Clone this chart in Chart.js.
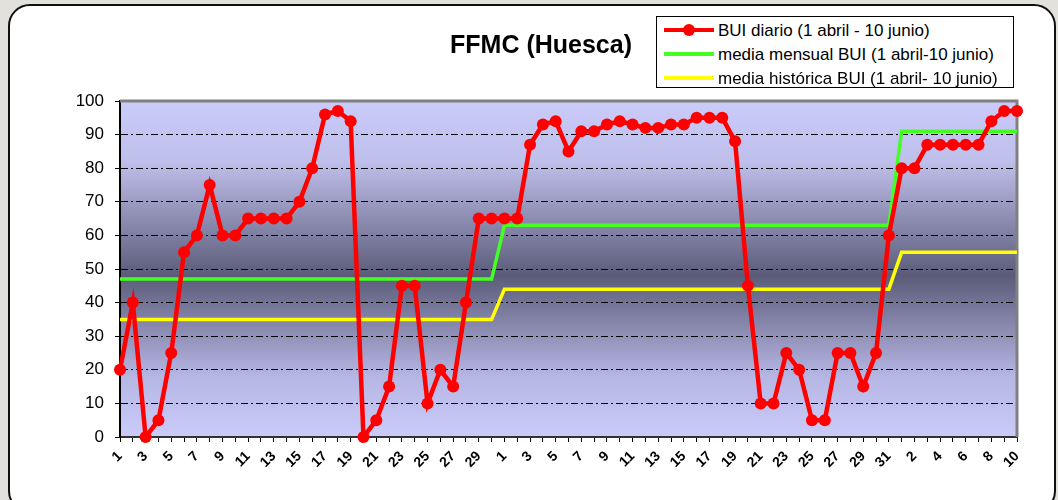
<!DOCTYPE html>
<html>
<head>
<meta charset="utf-8">
<script src="https://cdn.jsdelivr.net/npm/chart.js@4"></script>
<style>
  html, body { margin: 0; padding: 0; }
  body { width: 1058px; height: 500px; overflow: hidden; position: relative; background: #e2e1dc; font-family: "Liberation Sans", Arial, sans-serif; }
  #frame { position: absolute; left: 8px; top: 4px; width: 1044px; height: 505px; background: #fff; border: 2px solid #111; border-radius: 22px; }
  #chartBox { position: absolute; left: 0; top: 0; width: 1058px; height: 500px; }
  #title { position: absolute; left: 341px; top: 30px; width: 400px; text-align: center; font-weight: bold; font-size: 25px; color: #000; }
  #legend { position: absolute; left: 656px; top: 16px; width: 356px; height: 70px; border: 1px solid #000; background: #fff; }
  .row { position: absolute; left: 0; height: 22px; width: 356px; }
  .swatch { position: absolute; left: 7px; top: 10px; width: 50px; height: 4px; }
  .dot { position: absolute; left: 19px; top: -4px; width: 12px; height: 12px; border-radius: 50%; background: #ff0000; }
  .txt { position: absolute; left: 61px; top: 3px; font-size: 17px; line-height: 20px; color: #000; white-space: nowrap; }
</style>
</head>
<body>
<div id="frame"></div>
<div id="chartBox"><canvas id="ffmcChart" width="1058" height="500"></canvas></div>
<div id="title">FFMC (Huesca)</div>
<div id="legend">
  <div class="row" style="top:1px"><div class="swatch" style="background:#ff0000"><div class="dot"></div></div><div class="txt">BUI diario (1 abril - 10 junio)</div></div>
  <div class="row" style="top:25px"><div class="swatch" style="background:#44ff22"></div><div class="txt">media mensual BUI (1 abril-10 junio)</div></div>
  <div class="row" style="top:49px"><div class="swatch" style="background:#ffff00"></div><div class="txt">media histórica BUI (1 abril- 10 junio)</div></div>
</div>
<script>
// days: 1-30 April, 1-31 May, 1-10 June
const dias = [
  1,2,3,4,5,6,7,8,9,10,11,12,13,14,15,16,17,18,19,20,21,22,23,24,25,26,27,28,29,30,
  1,2,3,4,5,6,7,8,9,10,11,12,13,14,15,16,17,18,19,20,21,22,23,24,25,26,27,28,29,30,31,
  1,2,3,4,5,6,7,8,9,10
];

const buiDiario = [
  20,40,0,5,25,55,60,75,60,60,65,65,65,65,70,80,96,97,94,0,5,15,45,45,10,20,15,40,65,65,
  65,65,87,93,94,85,91,91,93,94,93,92,92,93,93,95,95,95,88,45,10,10,25,20,5,5,25,25,15,25,60,
  80,80,87,87,87,87,87,94,97,97
];

const mediaMensual = [
  47,47,47,47,47,47,47,47,47,47,47,47,47,47,47,47,47,47,47,47,47,47,47,47,47,47,47,47,47,47,
  63,63,63,63,63,63,63,63,63,63,63,63,63,63,63,63,63,63,63,63,63,63,63,63,63,63,63,63,63,63,63,
  91,91,91,91,91,91,91,91,91,91
];

const mediaHistorica = [
  35,35,35,35,35,35,35,35,35,35,35,35,35,35,35,35,35,35,35,35,35,35,35,35,35,35,35,35,35,35,
  44,44,44,44,44,44,44,44,44,44,44,44,44,44,44,44,44,44,44,44,44,44,44,44,44,44,44,44,44,44,44,
  55,55,55,55,55,55,55,55,55,55
];

const yTicks = [0,10,20,30,40,50,60,70,80,90,100];

/* plot background + gray top/right frame */
const plotFrame = {
  id: "plotFrame",
  beforeDraw(chart) {
    const { ctx, chartArea: a } = chart;
    const g = ctx.createLinearGradient(0, a.top, 0, a.bottom);
    g.addColorStop(0, "#cbcbfa");
    g.addColorStop(0.18, "#bfbfec");
    g.addColorStop(0.52, "#5b5b79");
    g.addColorStop(0.82, "#b6b6e4");
    g.addColorStop(1, "#cbcbfa");
    ctx.save();
    ctx.fillStyle = g;
    ctx.fillRect(a.left, a.top, a.right - a.left, a.bottom - a.top);
    ctx.restore();
  },
  beforeDatasetsDraw(chart) {
    const { ctx, chartArea: a } = chart;
    ctx.save();
    ctx.strokeStyle = "#808080";
    ctx.lineWidth = 3;
    ctx.beginPath();
    ctx.moveTo(a.left, a.top);
    ctx.lineTo(a.right, a.top);
    ctx.lineTo(a.right, a.bottom);
    ctx.stroke();
    ctx.restore();
  }
};

const ctx = document.getElementById("ffmcChart").getContext("2d");

new Chart(ctx, {
  type: "line",
  data: {
    labels: dias,
    datasets: [
      {
        label: "BUI diario (1 abril - 10 junio)",
        data: buiDiario,
        borderColor: "#ff0000",
        backgroundColor: "#ff0000",
        borderWidth: 4.5,
        pointRadius: 6,
        pointBorderWidth: 0,
        tension: 0,
        clip: false
      },
      {
        label: "media mensual BUI (1 abril-10 junio)",
        data: mediaMensual,
        borderColor: "#44ff22",
        borderWidth: 3.5,
        pointRadius: 0,
        tension: 0
      },
      {
        label: "media histórica BUI (1 abril- 10 junio)",
        data: mediaHistorica,
        borderColor: "#ffff00",
        borderWidth: 3.5,
        pointRadius: 0,
        tension: 0
      }
    ]
  },
  options: {
    responsive: false,
    animation: false,
    layout: { padding: { left: 0, top: 101, right: 41, bottom: 0 } },
    plugins: {
      legend: { display: false },
      tooltip: { enabled: false }
    },
    scales: {
      x: {
        offset: false,
        afterFit: (s) => { s.height = 63; },
        border: { display: true, color: "#333", width: 2 },
        grid: { drawOnChartArea: false, tickLength: 5, tickColor: "#000", tickWidth: 1 },
        ticks: {
          autoSkip: false,
          maxRotation: 45,
          minRotation: 45,
          padding: 6,
          color: "#000",
          font: { family: "Liberation Sans", size: 14, weight: "bold" },
          callback: (v, i) => (i % 2 === 0 ? dias[i] : "")
        }
      },
      y: {
        min: 0,
        max: 100,
        afterFit: (s) => { s.width = 120; },
        afterBuildTicks: (s) => { s.ticks = yTicks.map((v) => ({ value: v })); },
        border: { display: true, color: "#000", width: 2, dash: [7, 3, 2, 3] },
        grid: {
          color: (c) => (c.tick && (c.tick.value === 0 || c.tick.value === 100) ? "rgba(0,0,0,0)" : "#000"),
          lineWidth: 1,
          tickColor: "#000",
          tickLength: 5,
          tickBorderDash: []
        },
        ticks: {
          padding: 11,
          color: "#000",
          font: { family: "Liberation Sans", size: 17 }
        }
      }
    }
  },
  plugins: [plotFrame]
});
</script>
</body>
</html>
